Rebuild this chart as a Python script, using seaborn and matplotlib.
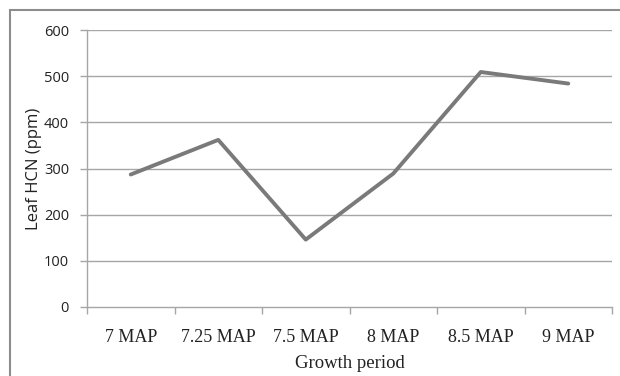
import matplotlib
matplotlib.use("Agg")
import matplotlib.pyplot as plt
import matplotlib.transforms as mtransforms
import seaborn as sns
import pandas as pd
from matplotlib.patches import Rectangle

periods = ["7 MAP", "7.25 MAP", "7.5 MAP", "8 MAP", "8.5 MAP", "9 MAP"]
hcn = [287, 362, 146, 289, 509, 484]
yticks = [0, 100, 200, 300, 400, 500, 600]

df = pd.DataFrame({"period": periods, "hcn": hcn})

sns.set_theme(style="white")
plt.rcParams["font.family"] = ["Open Sans", "DejaVu Sans"]

fig = plt.figure(figsize=(6.2, 3.76), dpi=100)
ax = fig.add_axes([87 / 620, 1 - 307 / 376, (612 - 87) / 620, (307 - 30) / 376])

# outer chart frame
fig.patches.append(Rectangle((10 / 620, -0.5), 2, 1 - 10 / 376 + 0.5,
                             transform=fig.transFigure, fill=False,
                             edgecolor="#8c8c8c", linewidth=1.5, zorder=0))

x = list(range(len(periods)))
for y in yticks[1:]:
    ax.axhline(y, color="#a6a6a6", linewidth=1.0, zorder=1)

sns.lineplot(x=x, y=df["hcn"], ax=ax, color="#7a7a7a", linewidth=2.8,
             zorder=3)

ax.set_xlim(-0.5, len(periods) - 0.5)
ax.set_ylim(0, 600)
ax.set_yticks(yticks)
ax.set_yticklabels([str(v) for v in yticks], fontsize=10.5, color="#222222")
ax.set_xticks(x)
ax.set_xticklabels(periods, fontfamily="Liberation Serif", fontsize=13,
                   color="#222222")
shift = mtransforms.ScaledTranslation(6 / 100, 0, fig.dpi_scale_trans)
for lbl in ax.get_xticklabels():
    lbl.set_transform(lbl.get_transform() + shift)
ax.set_xticks([i - 0.5 for i in range(len(periods) + 1)], minor=True)
ax.tick_params(axis="x", which="major", length=0, pad=16)
ax.tick_params(axis="x", which="minor", length=5, width=1, color="#a6a6a6",
               direction="out", bottom=True)
ax.tick_params(axis="y", which="major", length=5, width=1, color="#a6a6a6",
               direction="out", left=True, pad=8)

for side in ["top", "right"]:
    ax.spines[side].set_visible(False)
for side in ["left", "bottom"]:
    ax.spines[side].set_color("#a6a6a6")
    ax.spines[side].set_linewidth(1.0)

ax.set_xlabel("Growth period", fontfamily="Liberation Serif", fontsize=13.5,
              color="#222222", labelpad=6)
ax.set_ylabel("Leaf HCN (ppm)", fontsize=12, color="#222222", labelpad=1)

fig.savefig("out.png", dpi=100)
